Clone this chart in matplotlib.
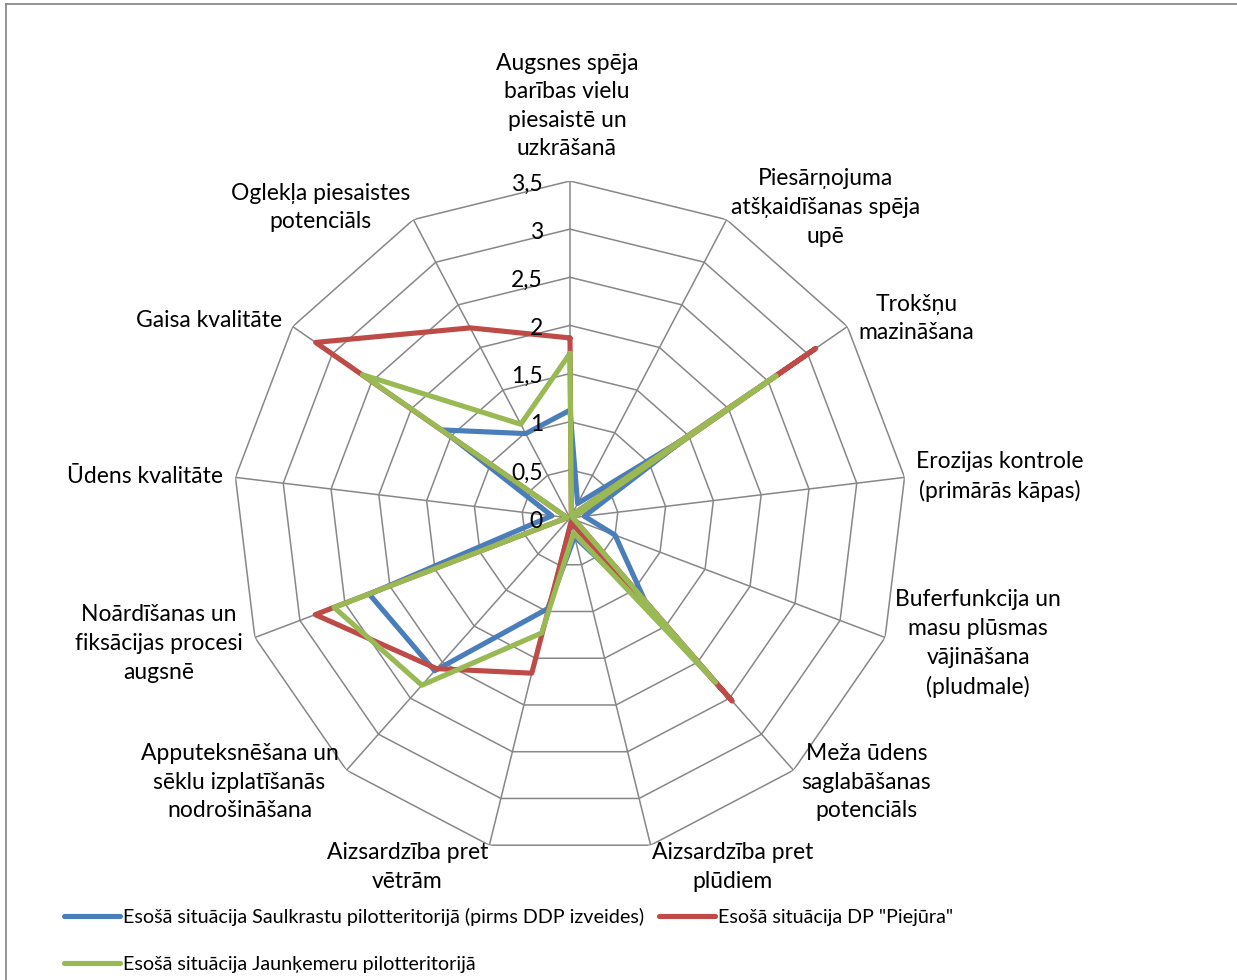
import numpy as np
import matplotlib
matplotlib.use("Agg")
import matplotlib.pyplot as plt
from matplotlib.lines import Line2D

# ---------------- data ----------------
categories = [
    "Augsnes spēja\nbarības vielu\npiesaistē un\nuzkrāšanā",
    "Piesārņojuma\natšķaidīšanas spēja\nupē",
    "Trokšņu\nmazināšana",
    "Erozijas kontrole\n(primārās kāpas)",
    "Buferfunkcija un\nmasu plūsmas\nvājināšana\n(pludmale)",
    "Meža ūdens\nsaglabāšanas\npotenciāls",
    "Aizsardzība pret\nplūdiem",
    "Aizsardzība pret\nvētrām",
    "Apputeksnēšana un\nsēklu izplatīšanās\nnodrošināšana",
    "Noārdīšanas un\nfiksācijas procesi\naugsnē",
    "Ūdens kvalitāte",
    "Gaisa kvalitāte",
    "Oglekļa piesaistes\npotenciāls",
]
saulkrasti = [1.12, 0.17, 1.50, 0.15, 0.50, 1.20, 0.20, 0.97, 2.12, 2.23, 0.19, 1.61, 0.99]
piejura    = [1.87, 0.03, 3.10, 0.03, 0.05, 2.54, 0.05, 1.66, 2.09, 2.83, 0.03, 3.21, 2.23]
jaunkemeri = [1.71, 0.03, 2.60, 0.03, 0.05, 2.28, 0.16, 1.23, 2.32, 2.62, 0.03, 2.62, 1.10]
series_names = [
    "Esošā situācija Saulkrastu pilotteritorijā (pirms DDP izveides)",
    "Esošā situācija DP \"Piejūra\"",
    "Esošā situācija Jaunķemeru pilotteritorijā",
]
r_ticks = [0, 0.5, 1, 1.5, 2, 2.5, 3, 3.5]
r_tick_labels = ["0", "0,5", "1", "1,5", "2", "2,5", "3", "3,5"]

# ---------------- style / layout ----------------
colors = ["#4A7EBB", "#BE4B48", "#98B954"]
grid_color = "#878787"
FONT = ["Lato", "DejaVu Sans"]
plt.rcParams["font.family"] = FONT

W, H, DPI = 1237, 980, 100
cx, cy, R = 570, 518, 337
fig = plt.figure(figsize=(W / DPI, H / DPI), dpi=DPI)
ax = fig.add_axes([(cx - R) / W, (H - cy - R) / H, 2 * R / W, 2 * R / H],
                  projection="polar")
ax.set_theta_zero_location("N")
ax.set_theta_direction(-1)
ax.set_ylim(0, r_ticks[-1])
ax.grid(False)
ax.set_xticks([])
ax.set_yticks([])
ax.spines["polar"].set_visible(False)
ax.patch.set_visible(False)

n = len(categories)
theta = np.arange(n) * 2 * np.pi / n
theta_c = np.append(theta, theta[0])

# grid polygons and spokes
for r in r_ticks[1:]:
    ax.plot(theta_c, [r] * (n + 1), color=grid_color, lw=1.1, zorder=1,
            solid_joinstyle="miter")
for t in theta:
    ax.plot([t, t], [0, r_ticks[-1]], color=grid_color, lw=1.1, zorder=1)

# series
lines = []
for vals, col, name in zip([saulkrasti, piejura, jaunkemeri], colors, series_names):
    v = list(vals) + [vals[0]]
    ln, = ax.plot(theta_c, v, color=col, lw=3.7, label=name, zorder=3,
                  solid_joinstyle="round", solid_capstyle="round")
    lines.append(ln)

# radial tick labels
pt = 72.0 / DPI
for r, lab in zip(r_ticks, r_tick_labels):
    ax.annotate(lab, xy=(0, r), xytext=(-27 * pt, -3 * pt), textcoords="offset points",
                ha="right", va="center", fontsize=16.5, color="#000000", zorder=5)

# category labels (offsets in pixels from the outer vertex)
label_offsets = [(-3, 75), (99, 12), (69, 8), (95, 1), (93, -6), (73, -12), (82, -22),
                 (-82, -22), (-107, -12), (-96, -6), (-90, 1), (-84, 6), (-93, 12)]
for t, lab, (dx, dy) in zip(theta, categories, label_offsets):
    ax.annotate(lab, xy=(t, r_ticks[-1]), xytext=(dx * pt, dy * pt),
                textcoords="offset points", ha="center", va="center",
                multialignment="center", fontsize=16.5, linespacing=1.45,
                color="#000000", annotation_clip=False)

# legend: order so that row1 = blue, red ; row2 = green
leg = fig.legend([lines[0], lines[2], lines[1]],
                 [series_names[0], series_names[2], series_names[1]],
                 ncol=2, loc="upper left", bbox_to_anchor=(64 / W, 1 - 908 / H),
                 frameon=False, fontsize=14.2, handlelength=2.85, handletextpad=0.15,
                 columnspacing=0.75, labelspacing=1.5, borderpad=0, borderaxespad=0)

# chart border (top and left visible)
fig.add_artist(Line2D([5.5 / W, 5.5 / W], [0, 1 - 4.5 / H], transform=fig.transFigure,
                      color="#8a8a8a", lw=1.3))
fig.add_artist(Line2D([5.5 / W, 1], [1 - 4.5 / H, 1 - 4.5 / H], transform=fig.transFigure,
                      color="#8a8a8a", lw=1.3))

fig.savefig("out.png", dpi=DPI, facecolor="white")
